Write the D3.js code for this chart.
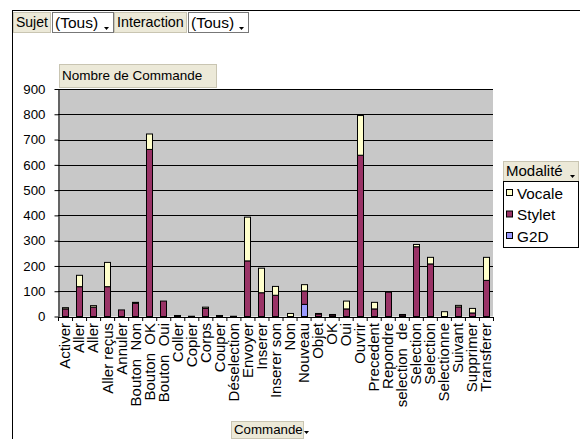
<!DOCTYPE html>
<html>
<head>
<meta charset="utf-8">
<script src="https://cdn.jsdelivr.net/npm/d3@7"></script>
<style>
  body { margin: 0; background: #fff; }
  text { font-family: "Liberation Sans", Arial, sans-serif; fill: #000; }
</style>
</head>
<body>
<script>
const categories = ["Activer", "Aller", "Aller", "Aller reçus", "Annuler", "Bouton  Non", "Bouton  OK", "Bouton  Oui",
  "Coller", "Copier", "Corps", "Couper", "Déselection", "Envoyer", "Inserer", "Inserer son", "Non", "Nouveau",
  "Objet", "OK", "Oui", "Ouvrir", "Precedent", "Repondre", "selection  de", "Selection", "Selection",
  "Selectionne", "Suivant", "Supprimer", "Transferer"];
const vocale = [5, 45, 6, 96, 0, 4, 61, 0, 0, 0, 5, 0, 0, 173, 97, 35, 12, 25, 2, 2, 31, 157, 26, 0, 2, 9, 26, 19, 6, 18, 91];
const stylet = [30, 118, 37, 118, 26, 52, 661, 61, 0, 0, 32, 0, 0, 220, 94, 84, 0, 53, 10, 6, 30, 638, 30, 96, 6, 276, 208, 0, 38, 14, 143];
const g2d    = [0, 0, 0, 0, 0, 0, 0, 0, 4, 1, 0, 4, 1, 0, 0, 0, 0, 48, 0, 0, 0, 0, 0, 0, 0, 0, 0, 0, 0, 0, 0];
const yTicks = [0, 100, 200, 300, 400, 500, 600, 700, 800, 900];
const seriesNames = ["Vocale", "Stylet", "G2D"];

const colors = { Vocale: "#ffffcc", Stylet: "#993366", G2D: "#9999ff" };

const W = 580, H = 439;
const plotL = 58, plotR = 493, plotT = 89, plotB = 316.5;

const svg = d3.select("body").append("svg")
  .attr("width", W)
  .attr("height", H);

// outer frame
svg.append("line").attr("x1", 12).attr("x2", W).attr("y1", 10.5).attr("y2", 10.5).attr("stroke", "#000");
svg.append("line").attr("x1", 12.5).attr("x2", 12.5).attr("y1", 10).attr("y2", H).attr("stroke", "#000");

function arrowAt(g, ax, ay) {
  g.append("path").attr("d", "M" + ax + "," + ay + "h5l-2.5,3z").attr("fill", "#000");
}
function button(x, y, w, h, label, size, arrow) {
  const g = svg.append("g");
  g.append("rect").attr("x", x + 0.5).attr("y", y + 0.5).attr("width", w).attr("height", h)
    .attr("fill", "#ece9d8").attr("stroke", "#c9c5b2");
  g.append("text").attr("x", x + 3).attr("y", y + h / 2).attr("dy", "0.36em")
    .style("font-size", size + "px").text(label);
  if (arrow) arrowAt(g, arrow[0], arrow[1]);
}
function dropdown(x, y, w, h, label, size) {
  const g = svg.append("g");
  g.append("rect").attr("x", x + 0.5).attr("y", y + 0.5).attr("width", w).attr("height", h)
    .attr("fill", "#fff").attr("stroke", "#777");
  g.append("text").attr("x", x + 3).attr("y", y + h / 2).attr("dy", "0.36em")
    .style("font-size", size + "px").text(label);
  arrowAt(g, x + w - 9, y + h - 5);
}

button(13, 12, 37, 20, "Sujet", 14);
dropdown(52, 12, 61, 20, "(Tous)", 15.5);
button(114, 12, 72, 20, "Interaction", 14.3);
dropdown(188, 12, 60, 20, "(Tous)", 15.5);
button(59, 64, 157, 23, "Nombre de Commande", 13.5);

// data table for the stack
const table = categories.map((c, i) => ({ i: i, G2D: g2d[i], Stylet: stylet[i], Vocale: vocale[i] }));
const stack = d3.stack().keys(["G2D", "Stylet", "Vocale"])(table);

const x = d3.scaleBand()
  .domain(d3.range(categories.length))
  .range([plotL, plotR])
  .paddingInner(0.57)
  .paddingOuter(0.285);
const xb = d3.scaleLinear().domain([0, categories.length]).range([plotL, plotR]);
const y = d3.scaleLinear().domain([0, 900]).range([plotB, plotT]);

// plot area
svg.append("rect").attr("x", plotL).attr("y", plotT).attr("width", plotR - plotL).attr("height", plotB - plotT)
  .attr("fill", "#c8c8c8");

svg.append("g").selectAll("line")
  .data(yTicks.filter(d => d > 0))
  .join("line")
  .attr("x1", plotL).attr("x2", plotR)
  .attr("y1", d => Math.round(y(d)) + 0.5).attr("y2", d => Math.round(y(d)) + 0.5)
  .attr("stroke", "#000");

// bars
svg.append("g").selectAll("g")
  .data(stack)
  .join("g")
  .attr("fill", d => colors[d.key])
  .selectAll("rect")
  .data(d => d.filter(p => p[1] > p[0]))
  .join("rect")
  .attr("x", d => Math.round(x(d.data.i)) + 0.5)
  .attr("width", Math.round(x.bandwidth()))
  .attr("y", d => y(d[1]))
  .attr("height", d => y(d[0]) - y(d[1]))
  .attr("stroke", "#000")
  .attr("stroke-width", 1);

// y axis
const yAxis = svg.append("g")
  .attr("transform", "translate(" + (plotL + 0.5) + ",0)")
  .call(d3.axisLeft(y).tickValues(yTicks).tickSize(4).tickSizeOuter(0).tickPadding(9));
yAxis.selectAll("text").style("font-size", "13.3px");
yAxis.selectAll("line,path").attr("stroke", "#000");

// x axis: ticks between categories
const xTicks = svg.append("g")
  .attr("transform", "translate(0," + (plotB + 0.5) + ")")
  .call(d3.axisBottom(xb).tickValues(d3.range(categories.length + 1)).tickFormat("").tickSize(4).tickSizeOuter(0));
xTicks.selectAll("line,path").attr("stroke", "#000");

// x labels
const xAxis = svg.append("g")
  .attr("transform", "translate(0," + (plotB + 0.5) + ")")
  .call(d3.axisBottom(x).tickSize(0).tickFormat(i => categories[i]));
xAxis.select(".domain").remove();
xAxis.selectAll("text")
  .attr("transform", "rotate(-90)")
  .attr("text-anchor", "end")
  .attr("x", -6)
  .attr("y", 0)
  .attr("dy", "0.36em")
  .style("font-size", "15px")
  .style("white-space", "pre");

// legend
button(503, 161, 75, 20, "Modalité", 15, [570, 175]);
svg.append("rect").attr("x", 503.5).attr("y", 181.5).attr("width", 75).attr("height", 66)
  .attr("fill", "#fff").attr("stroke", "#000");
const leg = svg.append("g").selectAll("g")
  .data(seriesNames)
  .join("g")
  .attr("transform", (d, i) => "translate(506," + (193 + i * 21.5) + ")");
leg.append("rect").attr("x", 0.5).attr("y", -3.5).attr("width", 6).attr("height", 6)
  .attr("fill", d => colors[d]).attr("stroke", "#000");
leg.append("text").attr("x", 11).attr("dy", "0.36em").style("font-size", "15.3px").text(d => d);

button(231, 421, 72, 17, "Commande", 13.3, [304, 431]);
</script>
</body>
</html>
